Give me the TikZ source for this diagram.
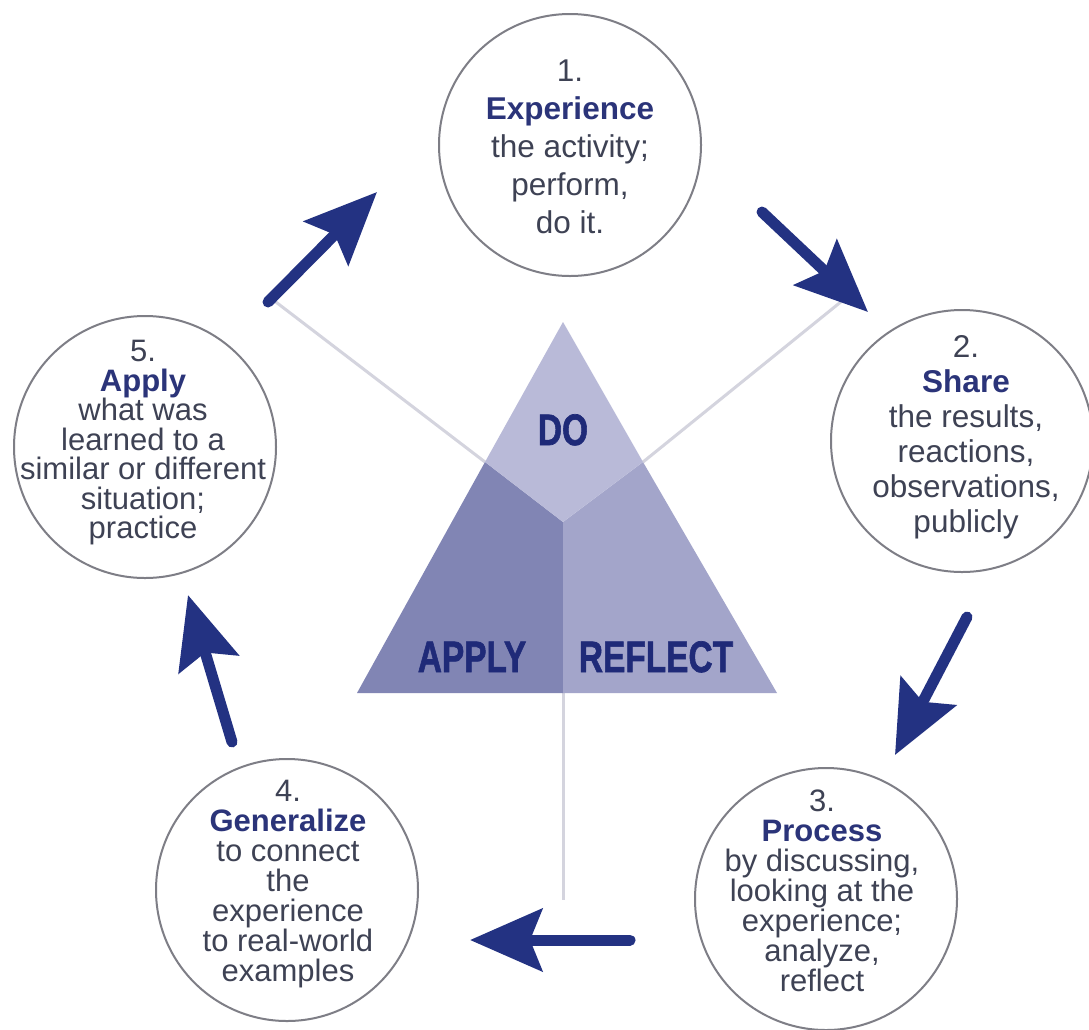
\documentclass[tikz,border=0pt]{standalone}
\usepackage{fontspec}
\setmainfont{Liberation Sans}
\newfontfamily\labfont[FakeBold=1.6]{Liberation Sans Bold}
\usetikzlibrary{arrows.meta}
\definecolor{navy}{HTML}{233282}
\definecolor{headc}{HTML}{2B3479}
\definecolor{bodyc}{HTML}{3E4254}
\definecolor{ringc}{HTML}{7E7E86}
\definecolor{guidec}{HTML}{D4D4DE}
\definecolor{dofill}{HTML}{B9BAD8}
\definecolor{applyfill}{HTML}{8185B4}
\definecolor{reflectfill}{HTML}{A3A5CA}
\definecolor{labc}{HTML}{1F2A78}
\tikzset{
  ring/.style={circle, draw=ringc, line width=2pt, minimum size=262pt, inner sep=0pt},
  ringtext/.style={anchor=north, inner sep=0pt, align=center, text=bodyc},
  bigarrow/.style={draw=navy, line width=11pt, line cap=round, -{Stealth[length=72pt,width=62pt,inset=12pt]}},
  guide/.style={draw=guidec, line width=3pt},
  trilabel/.style={anchor=base, inner sep=0pt, text=labc, font=\fontsize{44}{44}\selectfont\labfont},
}
\newcommand{\hd}[1]{{\bfseries\color{headc}#1}}
\begin{document}
\begin{tikzpicture}[x=1pt,y=-1pt]
\useasboundingbox (0,0) rectangle (1089,1029);
\fill[white] (0,0) rectangle (1089,1029);

% triangle key points
\coordinate (apex) at (563,322);
\coordinate (bl) at (357,693);
\coordinate (br) at (777,693);
\coordinate (jl) at (485,462);
\coordinate (jr) at (643,462);
\coordinate (ctr) at (563,522);
\coordinate (bm) at (563,693);
\coordinate (g1) at (268,296);
\coordinate (g2) at (858,288);
\coordinate (g3) at (563,900);

% guide lines
\draw[guide] (g1) -- (jl);
\draw[guide] (g2) -- (jr);
\draw[guide] (bm) -- (g3);

% triangle
\fill[applyfill] (jl) -- (ctr) -- (bm) -- (bl) -- cycle;
\fill[reflectfill] (ctr) -- (jr) -- (br) -- (bm) -- cycle;
\fill[dofill] (apex) -- (jr) -- (ctr) -- (jl) -- cycle;
\node[trilabel] (ldo) at (563,445) {\scalebox{0.76}[1]{DO}};
\node[trilabel] (lapply) at (472,672) {\scalebox{0.76}[1]{APPLY}};
\node[trilabel] (lreflect) at (656,672) {\scalebox{0.76}[1]{REFLECT}};

% circles
\node[ring] (c1) at (570,145) {};
\node[ring] (c2) at (962,441) {};
\node[ring] (c3) at (826,899) {};
\node[ring] (c4) at (287,890) {};
\node[ring] (c5) at (145,447) {};

\node[ringtext, font=\fontsize{31.5}{38}\selectfont] (t1) at (570,60)
  {1.\\\hd{Experience}\\the activity;\\perform,\\do it.};
\node[ringtext, font=\fontsize{31.5}{35}\selectfont] (t2) at (966,335)
  {2.\\\hd{Share}\\the results,\\reactions,\\observations,\\publicly};
\node[ringtext, font=\fontsize{31}{30}\selectfont] (t3) at (822,790)
  {3.\\\hd{Process}\\by discussing,\\looking at the\\experience;\\analyze,\\reflect};
\node[ringtext, font=\fontsize{31}{30}\selectfont] (t4) at (288,780)
  {4.\\\hd{Generalize}\\to connect\\the\\experience\\to real-world\\examples};
\node[ringtext, font=\fontsize{31}{29.5}\selectfont] (t5) at (143,340)
  {5.\\\hd{Apply}\\what was\\learned to a\\similar or different\\situation;\\practice};

% arrows
\coordinate (a1s) at (268,302); \coordinate (a1e) at (377,192);
\coordinate (a2s) at (762,212); \coordinate (a2e) at (868,312);
\coordinate (a3s) at (967,617); \coordinate (a3e) at (895,755);
\coordinate (a4s) at (630,940); \coordinate (a4e) at (470,940);
\coordinate (a5s) at (232,742); \coordinate (a5e) at (188,595);
\draw[bigarrow] (a1s) -- (a1e);
\draw[bigarrow] (a2s) -- (a2e);
\draw[bigarrow] (a3s) -- (a3e);
\draw[bigarrow] (a4s) -- (a4e);
\draw[bigarrow] (a5s) -- (a5e);
\end{tikzpicture}
\end{document}
